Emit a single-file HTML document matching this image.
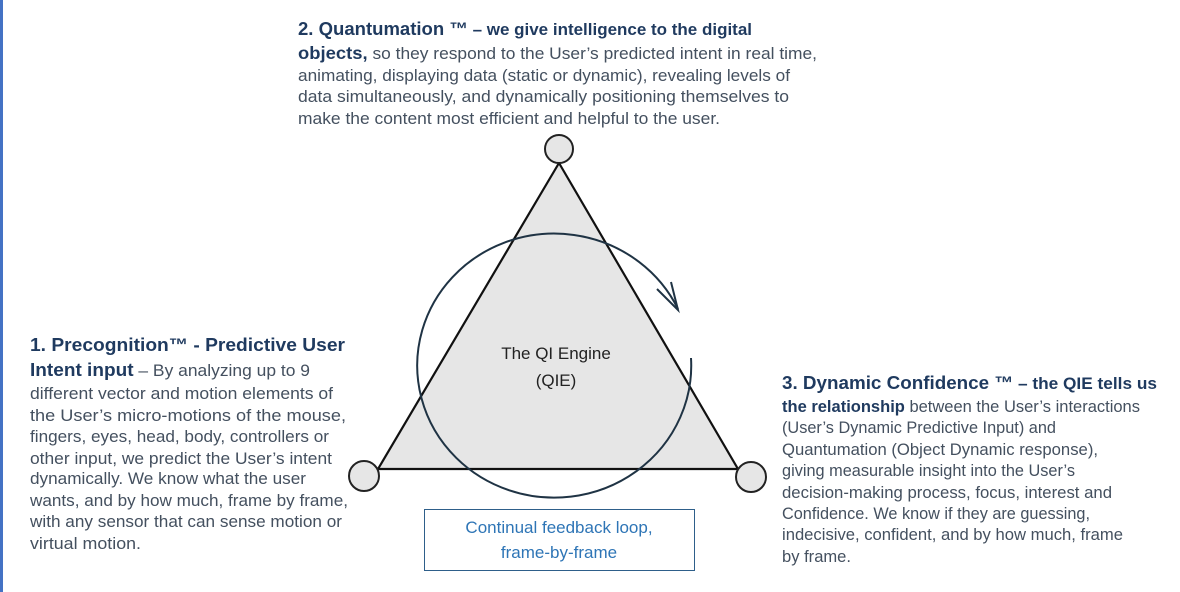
<!DOCTYPE html>
<html><head><meta charset="utf-8"><style>
html,body{margin:0;padding:0;background:#fff}
body{width:1180px;height:592px;position:relative;overflow:hidden;font-family:"Liberation Sans",sans-serif}
.lb{position:absolute;left:0;top:0;width:3px;height:592px;background:#4472c4}
svg text{font-family:"Liberation Sans",sans-serif}
.b{font-size:16.5px;fill:#44505f}
.h{font-weight:bold;fill:#1f3a5f}
.hh{font-weight:bold;fill:#1f3a5f;font-size:18px}
</style></head><body>
<div class="lb"></div>
<svg width="1180" height="592" style="position:absolute;left:0;top:0">
<polygon points="559,163 378,469 738,469" fill="#e6e6e6" stroke="#111" stroke-width="2.2"/>
<circle cx="559" cy="149" r="14" fill="#e6e6e6" stroke="#222" stroke-width="2"/>
<circle cx="364" cy="476" r="15" fill="#e6e6e6" stroke="#222" stroke-width="2"/>
<circle cx="751" cy="477" r="15" fill="#e6e6e6" stroke="#222" stroke-width="2"/>
<path d="M678,309 A137,132 0 1 0 691,358" fill="none" stroke="#1f3344" stroke-width="2"/>
<path d="M657,289 L678,310 L671,282" fill="none" stroke="#1f3344" stroke-width="2"/>
<text x="556" y="359" text-anchor="middle" font-size="17" fill="#222">The QI Engine</text>
<text x="556" y="386" text-anchor="middle" font-size="17" fill="#222">(QIE)</text>
<rect x="424.5" y="509.5" width="270" height="61" fill="#fff" stroke="#2e5f8a" stroke-width="1"/>
<text x="559" y="533" text-anchor="middle" font-size="17" fill="#2e75b6">Continual feedback loop,</text>
<text x="559" y="558" text-anchor="middle" font-size="17" fill="#2e75b6">frame-by-frame</text>

<g class="b">
<text x="298" y="35" textLength="454" lengthAdjust="spacingAndGlyphs"><tspan class="hh">2. Quantumation ™</tspan><tspan class="h"> – we give intelligence to the digital</tspan></text>
<text x="298" y="59" textLength="519" lengthAdjust="spacingAndGlyphs"><tspan class="h" style="font-size:17.5px">objects,</tspan> so they respond to the User’s predicted intent in real time,</text>
<text x="298" y="81" textLength="492" lengthAdjust="spacingAndGlyphs">animating, displaying data (static or dynamic), revealing levels of</text>
<text x="298" y="102" textLength="491" lengthAdjust="spacingAndGlyphs">data simultaneously, and dynamically positioning themselves to</text>
<text x="298" y="124" textLength="422" lengthAdjust="spacingAndGlyphs">make the content most efficient and helpful to the user.</text>

<text x="30" y="351" textLength="315" lengthAdjust="spacingAndGlyphs"><tspan class="hh">1. Precognition™ - Predictive User</tspan></text>
<text x="30" y="376" textLength="280" lengthAdjust="spacingAndGlyphs"><tspan class="hh">Intent input</tspan> – By analyzing up to 9</text>
<text x="30" y="399" textLength="303" lengthAdjust="spacingAndGlyphs">different vector and motion elements of</text>
<text x="30" y="421" textLength="316" lengthAdjust="spacingAndGlyphs">the User’s micro-motions of the mouse,</text>
<text x="30" y="442" textLength="299" lengthAdjust="spacingAndGlyphs">fingers, eyes, head, body, controllers or</text>
<text x="30" y="464" textLength="302" lengthAdjust="spacingAndGlyphs">other input, we predict the User’s intent</text>
<text x="30" y="484" textLength="276" lengthAdjust="spacingAndGlyphs">dynamically. We know what the user</text>
<text x="30" y="506" textLength="318" lengthAdjust="spacingAndGlyphs">wants, and by how much, frame by frame,</text>
<text x="30" y="527" textLength="312" lengthAdjust="spacingAndGlyphs">with any sensor that can sense motion or</text>
<text x="30" y="549" textLength="111" lengthAdjust="spacingAndGlyphs">virtual motion.</text>

<text x="782" y="389" textLength="375" lengthAdjust="spacingAndGlyphs"><tspan class="hh">3. Dynamic Confidence ™</tspan><tspan class="h"> – the QIE tells us</tspan></text>
<text x="782" y="412" textLength="358" lengthAdjust="spacingAndGlyphs"><tspan class="h">the relationship</tspan> between the User’s interactions</text>
<text x="782" y="433" textLength="274" lengthAdjust="spacingAndGlyphs">(User’s Dynamic Predictive Input) and</text>
<text x="782" y="455" textLength="316" lengthAdjust="spacingAndGlyphs">Quantumation (Object Dynamic response),</text>
<text x="782" y="476" textLength="293" lengthAdjust="spacingAndGlyphs">giving measurable insight into the User’s</text>
<text x="782" y="498" textLength="330" lengthAdjust="spacingAndGlyphs">decision-making process, focus, interest and</text>
<text x="782" y="519" textLength="308" lengthAdjust="spacingAndGlyphs">Confidence. We know if they are guessing,</text>
<text x="782" y="540" textLength="341" lengthAdjust="spacingAndGlyphs">indecisive, confident, and by how much, frame</text>
<text x="782" y="562" textLength="69" lengthAdjust="spacingAndGlyphs">by frame.</text>
</g>
</svg>
</body></html>
